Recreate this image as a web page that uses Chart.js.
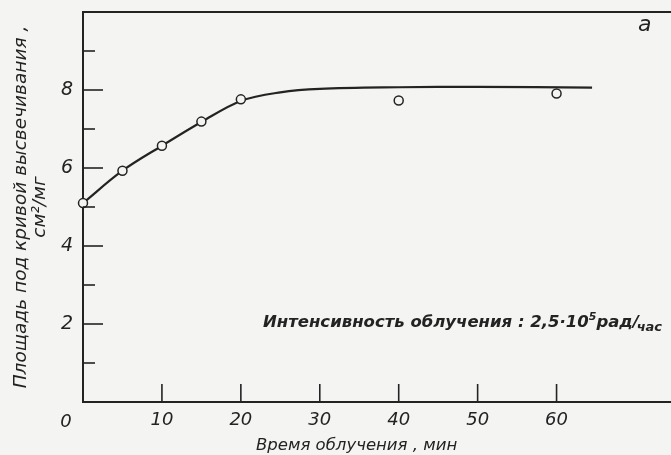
<!DOCTYPE html>
<html>
<head>
<meta charset="utf-8">
<script src="https://cdn.jsdelivr.net/npm/chart.js@4/dist/chart.umd.min.js"></script>
<style>
  html, body { margin: 0; padding: 0; background: #f4f4f2; }
  #wrap { width: 671px; height: 455px; position: relative; }
</style>
</head>
<body>
<div id="wrap"><canvas id="chart"></canvas></div>
<script>
// measured points (open circles)
const timeMin = [0, 5, 10, 15, 20, 40, 60];
const areaValues = [5.1, 5.93, 6.57, 7.19, 7.76, 7.73, 7.91];

// smooth curve drawn through the points
const curveTime = [0, 5, 10, 15, 20, 25, 30, 40, 50, 64.5];
const curveArea = [5.1, 5.93, 6.57, 7.18, 7.72, 7.94, 8.03, 8.07, 8.08, 8.06];

// axis ticks
const xTickLabels = [10, 20, 30, 40, 50, 60];
const yTickLabels = [2, 4, 6, 8];
const yMinorTicks = [1, 3, 5, 7, 9];

const ink = "#232323";
const paper = "#f4f4f2";
const handFont = "'DejaVu Sans', sans-serif";

// ticks point inward, plus the free text of the figure
const figureExtras = {
  id: "figureExtras",
  afterDatasetsDraw(chart) {
    const { ctx, chartArea, scales } = chart;
    const x = scales.x, y = scales.y;
    ctx.save();
    ctx.strokeStyle = ink;
    ctx.lineWidth = 1.6;

    xTickLabels.forEach(v => {
      const px = x.getPixelForValue(v);
      ctx.beginPath();
      ctx.moveTo(px, chartArea.bottom);
      ctx.lineTo(px, chartArea.bottom - 18);
      ctx.stroke();
    });
    yTickLabels.concat(yMinorTicks).forEach(v => {
      const py = y.getPixelForValue(v);
      const len = yTickLabels.includes(v) ? 20 : 12;
      ctx.beginPath();
      ctx.moveTo(chartArea.left, py);
      ctx.lineTo(chartArea.left + len, py);
      ctx.stroke();
    });

    ctx.fillStyle = ink;
    ctx.textBaseline = "alphabetic";

    // corner zero
    ctx.font = `italic 18px ${handFont}`;
    ctx.textAlign = "center";
    ctx.fillText("0", 66, 427);

    // x axis title
    ctx.textAlign = "left";
    ctx.font = `italic 16.5px ${handFont}`;
    ctx.fillText("Время облучения , мин", 256, 450);

    // panel letter
    ctx.font = `italic 22px ${handFont}`;
    ctx.fillText("a", 638, 31);

    // irradiation intensity note
    let cx = 263;
    const base = 327;
    ctx.font = `italic bold 16.5px ${handFont}`;
    const main = "Интенсивность облучения : 2,5·10";
    ctx.fillText(main, cx, base);
    cx += ctx.measureText(main).width;
    ctx.font = `italic bold 11px ${handFont}`;
    ctx.fillText("5", cx, base - 7);
    cx += ctx.measureText("5").width;
    ctx.font = `italic bold 16.5px ${handFont}`;
    ctx.fillText("рад/", cx, base);
    cx += ctx.measureText("рад/").width;
    ctx.font = `italic bold 13px ${handFont}`;
    ctx.fillText("час", cx - 2, base + 4);

    ctx.restore();
  }
};

new Chart(document.getElementById("chart"), {
  type: "scatter",
  data: {
    datasets: [
      {
        label: "points",
        data: timeMin.map((t, i) => ({ x: t, y: areaValues[i] })),
        showLine: false,
        pointRadius: 4.5,
        pointBackgroundColor: paper,
        pointBorderColor: ink,
        pointBorderWidth: 1.5,
        clip: false,
        order: 0
      },
      {
        label: "curve",
        data: curveTime.map((t, i) => ({ x: t, y: curveArea[i] })),
        showLine: true,
        borderColor: ink,
        borderWidth: 2.2,
        pointRadius: 0,
        tension: 0.35,
        order: 1
      }
    ]
  },
  options: {
    responsive: true,
    maintainAspectRatio: false,
    animation: false,
    layout: { padding: 0, autoPadding: false },
    plugins: {
      legend: { display: false },
      tooltip: { enabled: false }
    },
    scales: {
      x: {
        type: "linear",
        min: 0,
        max: 74.5,
        afterFit: s => { s.height = 53; s.paddingRight = 0; s.paddingLeft = 0; },
        border: { display: true, color: ink, width: 2 },
        grid: { display: false, drawTicks: false },
        ticks: {
          stepSize: 10,
          padding: 8,
          color: ink,
          font: { family: handFont, size: 18, style: "italic" },
          callback: v => (xTickLabels.includes(v) ? v : "")
        }
      },
      xTop: {
        type: "linear",
        position: "top",
        min: 0,
        max: 74.5,
        afterFit: s => { s.height = 12; s.paddingRight = 0; s.paddingLeft = 0; },
        border: { display: true, color: ink, width: 2 },
        grid: { display: false, drawTicks: false },
        ticks: { display: false }
      },
      y: {
        min: 0,
        max: 10,
        afterFit: s => { s.width = 83; s.paddingTop = 0; s.paddingBottom = 0; },
        border: { display: true, color: ink, width: 2 },
        grid: { display: false, drawTicks: false },
        ticks: {
          stepSize: 1,
          padding: 10,
          color: ink,
          font: { family: handFont, size: 19, style: "italic" },
          callback: v => (yTickLabels.includes(v) ? v : "")
        },
        title: {
          display: true,
          text: ["Площадь под кривой высвечивания ,", "см²/мг"],
          color: ink,
          font: { family: handFont, size: 18.5, style: "italic", lineHeight: 1.05 },
          padding: { top: 11, bottom: 0 }
        }
      }
    }
  },
  plugins: [figureExtras]
});
</script>
</body>
</html>
